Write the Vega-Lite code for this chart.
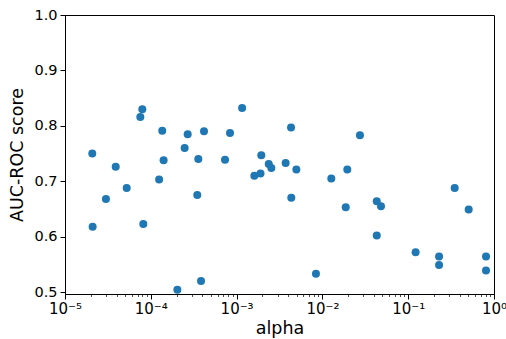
{
  "$schema": "https://vega.github.io/schema/vega-lite/v6.json",
  "autosize": {"type": "none"},
  "padding": {"left": 65, "top": 15, "right": 12, "bottom": 45},
  "width": 429,
  "height": 279,
  "background": "white",
  "config": {
    "view": {"stroke": "black", "strokeWidth": 1},
    "font": "DejaVu Sans",
    "axis": {"grid": false, "domainColor": "black", "tickColor": "black", "labelColor": "black", "titleColor": "black", "titleFontWeight": "normal", "labelFont": "DejaVu Sans", "titleFont": "DejaVu Sans"}
  },
  "data": {
    "values": [
      {"alpha": 2.08e-5, "auc": 0.750},
      {"alpha": 2.10e-5, "auc": 0.618},
      {"alpha": 3.0e-5, "auc": 0.668},
      {"alpha": 3.9e-5, "auc": 0.726},
      {"alpha": 5.24e-5, "auc": 0.688},
      {"alpha": 7.96e-5, "auc": 0.830},
      {"alpha": 7.55e-5, "auc": 0.816},
      {"alpha": 8.18e-5, "auc": 0.623},
      {"alpha": 1.36e-4, "auc": 0.791},
      {"alpha": 1.41e-4, "auc": 0.738},
      {"alpha": 1.25e-4, "auc": 0.703},
      {"alpha": 2.04e-4, "auc": 0.504},
      {"alpha": 2.69e-4, "auc": 0.785},
      {"alpha": 2.48e-4, "auc": 0.760},
      {"alpha": 3.58e-4, "auc": 0.740},
      {"alpha": 3.48e-4, "auc": 0.675},
      {"alpha": 3.85e-4, "auc": 0.520},
      {"alpha": 4.17e-4, "auc": 0.790},
      {"alpha": 7.33e-4, "auc": 0.739},
      {"alpha": 8.38e-4, "auc": 0.787},
      {"alpha": 1.16e-3, "auc": 0.832},
      {"alpha": 1.94e-3, "auc": 0.747},
      {"alpha": 1.61e-3, "auc": 0.710},
      {"alpha": 1.90e-3, "auc": 0.714},
      {"alpha": 2.37e-3, "auc": 0.731},
      {"alpha": 2.54e-3, "auc": 0.724},
      {"alpha": 4.31e-3, "auc": 0.797},
      {"alpha": 3.73e-3, "auc": 0.733},
      {"alpha": 4.97e-3, "auc": 0.721},
      {"alpha": 4.34e-3, "auc": 0.670},
      {"alpha": 8.41e-3, "auc": 0.533},
      {"alpha": 2.74e-2, "auc": 0.783},
      {"alpha": 1.27e-2, "auc": 0.705},
      {"alpha": 1.95e-2, "auc": 0.721},
      {"alpha": 1.87e-2, "auc": 0.653},
      {"alpha": 4.30e-2, "auc": 0.664},
      {"alpha": 4.82e-2, "auc": 0.655},
      {"alpha": 4.30e-2, "auc": 0.602},
      {"alpha": 0.122, "auc": 0.572},
      {"alpha": 0.229, "auc": 0.564},
      {"alpha": 0.229, "auc": 0.549},
      {"alpha": 0.348, "auc": 0.688},
      {"alpha": 0.507, "auc": 0.649},
      {"alpha": 0.807, "auc": 0.564},
      {"alpha": 0.807, "auc": 0.539}
    ]
  },
  "mark": {"type": "circle", "size": 64, "color": "#1f77b4", "opacity": 1},
  "encoding": {
    "x": {
      "field": "alpha",
      "type": "quantitative",
      "scale": {"type": "log", "domain": [1e-5, 1], "nice": false},
      "axis": {
        "title": "alpha",
        "titleFontSize": 17.5,
        "titlePadding": 3,
        "labelFontSize": 15,
        "labelPadding": 2,
        "labelOverlap": false,
        "labelFlush": false,
        "values": [1e-5, 2e-5, 3e-5, 4e-5, 5e-5, 6e-5, 7e-5, 8e-5, 9e-5, 1e-4, 2e-4, 3e-4, 4e-4, 5e-4, 6e-4, 7e-4, 8e-4, 9e-4, 1e-3, 2e-3, 3e-3, 4e-3, 5e-3, 6e-3, 7e-3, 8e-3, 9e-3, 1e-2, 2e-2, 3e-2, 4e-2, 5e-2, 6e-2, 7e-2, 8e-2, 9e-2, 0.1, 0.2, 0.3, 0.4, 0.5, 0.6, 0.7, 0.8, 0.9, 1],
        "labelExpr": "abs(log(datum.value)/LN10 - round(log(datum.value)/LN10)) < 0.001 ? (round(log(datum.value)/LN10) == -5 ? '10⁻⁵' : round(log(datum.value)/LN10) == -4 ? '10⁻⁴' : round(log(datum.value)/LN10) == -3 ? '10⁻³' : round(log(datum.value)/LN10) == -2 ? '10⁻²' : round(log(datum.value)/LN10) == -1 ? '10⁻¹' : '10⁰') : ''",
        "tickSize": {"condition": {"test": "abs(log(datum.value)/LN10 - round(log(datum.value)/LN10)) < 0.001", "value": 5}, "value": 2.5},
        "tickWidth": {"condition": {"test": "abs(log(datum.value)/LN10 - round(log(datum.value)/LN10)) < 0.001", "value": 1}, "value": 0.7}
      }
    },
    "y": {
      "field": "auc",
      "type": "quantitative",
      "scale": {"domain": [0.4965, 1.0], "nice": false, "zero": false},
      "axis": {
        "title": "AUC-ROC score",
        "titleFontSize": 17.5,
        "titlePadding": 7,
        "labelFontSize": 14.5,
        "labelPadding": 3,
        "tickSize": 5,
        "values": [0.5, 0.6, 0.7, 0.8, 0.9, 1.0],
        "format": ".1f"
      }
    }
  }
}
